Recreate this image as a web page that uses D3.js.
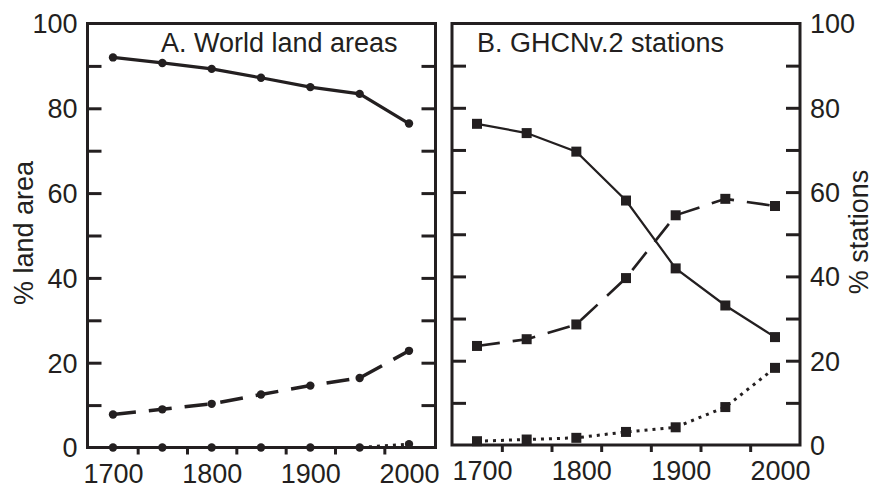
<!DOCTYPE html>
<html><head><meta charset="utf-8">
<script src="https://cdn.jsdelivr.net/npm/d3@7"></script>
<style>
html,body{margin:0;padding:0;background:#fff;}
svg{display:block;font-family:"Liberation Sans",Arial,Helvetica,sans-serif;}
</style></head>
<body>
<svg id="chart" width="875" height="487"></svg>
<script>
// ---- data ----
const years = [1700, 1750, 1800, 1850, 1900, 1950, 2000];
const landSolid = [92.0, 90.7, 89.3, 87.2, 85.0, 83.4, 76.4];
const landDashed = [7.8, 9.0, 10.3, 12.5, 14.6, 16.4, 22.8];
const landDotted = [0, 0, 0, 0, 0, 0, 0.8];
const stationSolid = [76.2, 74.0, 69.6, 58.0, 41.9, 33.1, 25.6];
const stationDashed = [23.5, 25.1, 28.6, 39.6, 54.5, 58.4, 56.7];
const stationDotted = [0.9, 1.3, 1.7, 3.1, 4.2, 9.0, 18.3];
const xLabelYears = [1700, 1800, 1900, 2000];
const xTickYears = [1725, 1775, 1825, 1875, 1925, 1975];
const yLabelValues = [0, 20, 40, 60, 80, 100];
const yTickValues = [10, 20, 30, 40, 50, 60, 70, 80, 90];
const titleA = "A. World land areas";
const titleB = "B. GHCNv.2 stations";
const yTitleA = "% land area";
const yTitleB = "% stations";

const svg = d3.select("#chart");
const FS = 27;
const INK = "#231f20";

function panel(cfg) {
  const {left, right, top, bottom, x0, x1, solid, dashed, dotted, marker, labelSide, labelDx, solidW, dashW} = cfg;
  const x = d3.scaleLinear().domain([1700, 2000]).range([x0, x1]);
  const y = d3.scaleLinear().domain([0, 100]).range([bottom, top]);
  const g = svg.append("g");

  // inward y ticks both sides
  const ax = g.append("g").attr("transform", `translate(${left},0)`)
    .call(d3.axisRight(y).tickValues(yTickValues).tickSize(14).tickFormat(""));
  const ax2 = g.append("g").attr("transform", `translate(${right},0)`)
    .call(d3.axisLeft(y).tickValues(yTickValues).tickSize(14).tickFormat(""));
  // bottom outward ticks
  const ax3 = g.append("g").attr("transform", `translate(0,${bottom})`)
    .call(d3.axisBottom(x).tickValues(xTickYears).tickSize(7).tickFormat(""));
  [ax, ax2, ax3].forEach(a => {
    a.select(".domain").remove();
    a.selectAll("line").attr("stroke", INK).attr("stroke-width", 3);
  });

  // x labels
  const xl = g.append("g").attr("transform", `translate(${labelDx},${bottom})`)
    .call(d3.axisBottom(x).tickValues(xLabelYears).tickSize(0).tickPadding(0).tickFormat(d3.format("d")));
  xl.select(".domain").remove();
  xl.selectAll("text").attr("font-size", FS).attr("fill", INK)
    .attr("font-family", '"Liberation Sans",Arial,sans-serif').attr("dy", null).attr("y", 35);

  // y labels
  const yl = g.append("g").attr("transform", `translate(${labelSide === "left" ? left : right},0)`)
    .call((labelSide === "left" ? d3.axisLeft(y) : d3.axisRight(y)).tickValues(yLabelValues).tickSize(0).tickPadding(10).tickFormat(d3.format("d")));
  yl.select(".domain").remove();
  yl.selectAll("text").attr("font-size", FS).attr("fill", INK)
    .attr("font-family", '"Liberation Sans",Arial,sans-serif').attr("dy", "0.35em");

  // frame
  g.append("rect").attr("x", left).attr("y", top).attr("width", right - left).attr("height", bottom - top)
    .attr("fill", "none").attr("stroke", INK).attr("stroke-width", 3);

  const line = d3.line().x((d, i) => x(years[i])).y(d => y(d));
  g.append("path").datum(dotted).attr("d", line).attr("fill", "none")
    .attr("stroke", INK).attr("stroke-width", 3).attr("stroke-dasharray", "3,5");
  g.append("path").datum(dashed).attr("d", line).attr("fill", "none")
    .attr("stroke", INK).attr("stroke-width", dashW).attr("stroke-dasharray", "23,13");
  g.append("path").datum(solid).attr("d", line).attr("fill", "none")
    .attr("stroke", INK).attr("stroke-width", solidW);

  [solid, dashed, dotted].forEach(series => {
    if (marker === "circle") {
      g.selectAll(null).data(series).enter().append("circle")
        .attr("cx", (d, i) => x(years[i])).attr("cy", d => y(d)).attr("r", 4.2).attr("fill", INK);
    } else {
      g.selectAll(null).data(series).enter().append("rect")
        .attr("x", (d, i) => x(years[i]) - 5).attr("y", d => y(d) - 5)
        .attr("width", 10).attr("height", 10).attr("fill", INK);
    }
  });
  return g;
}

panel({left: 87.5, right: 435.5, top: 23.5, bottom: 447.5, x0: 113, x1: 409,
  solid: landSolid, dashed: landDashed, dotted: landDotted, marker: "circle",
  labelSide: "left", labelDx: 0, solidW: 3.2, dashW: 3.5});
panel({left: 452, right: 800, top: 23.5, bottom: 445, x0: 477, x1: 775,
  solid: stationSolid, dashed: stationDashed, dotted: stationDotted, marker: "square",
  labelSide: "right", labelDx: 5, solidW: 2.2, dashW: 2.6});

svg.append("text").attr("x", 161).attr("y", 52).attr("font-size", FS).attr("fill", INK).text(titleA);
svg.append("text").attr("x", 477).attr("y", 52).attr("font-size", FS).attr("fill", INK).text(titleB);
svg.append("text").attr("transform", "translate(33,233) rotate(-90)").attr("text-anchor", "middle")
  .attr("font-size", FS).attr("fill", INK).text(yTitleA);
svg.append("text").attr("transform", "translate(868,232) rotate(-90)").attr("text-anchor", "middle")
  .attr("font-size", FS).attr("fill", INK).text(yTitleB);
</script>
</body></html>
